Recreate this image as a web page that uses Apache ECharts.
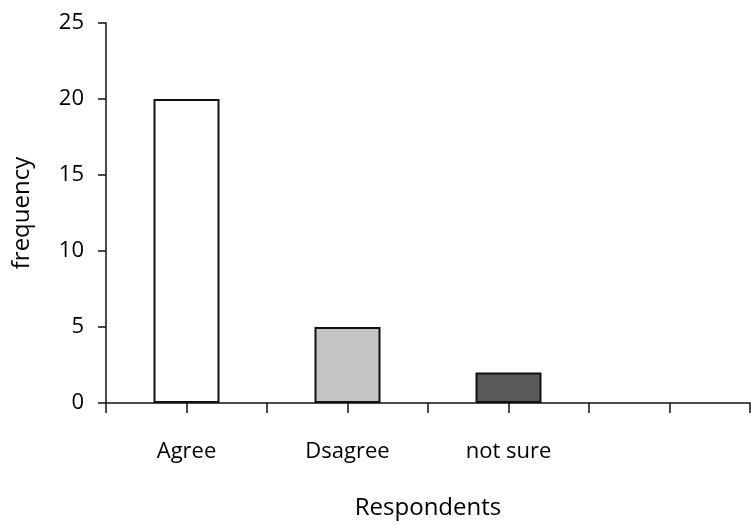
<!DOCTYPE html>
<html>
<head>
<meta charset="utf-8">
<script src="https://cdn.jsdelivr.net/npm/echarts@6/dist/echarts.min.js"></script>
<style>
html,body{margin:0;padding:0;background:#fff;}
#chart{width:751px;height:525px;}
</style>
</head>
<body>
<div id="chart"></div>
<script>
const categories = ['Agree', 'Dsagree', 'not sure', ''];
const frequency = [20, 5, 2, null];
const barColors = ['#ffffff', '#c4c4c4', '#595959', '#ffffff'];
const yTicks = [0, 5, 10, 15, 20, 25];

const FONT = '"Open Sans", Lato, sans-serif';
const chart = echarts.init(document.getElementById('chart'));
chart.setOption({
  animation: false,
  backgroundColor: '#fff',
  grid: { left: 106, top: 23, width: 644, height: 380, containLabel: false },
  xAxis: [{
    type: 'category',
    data: categories,
    boundaryGap: true,
    name: 'Respondents',
    nameLocation: 'middle',
    nameGap: 93,
    nameTextStyle: { fontFamily: FONT, fontSize: 24, color: '#000' },
    axisLine: { lineStyle: { color: '#111', width: 1.5 } },
    axisTick: { show: true, alignWithLabel: true, length: 10, lineStyle: { color: '#111', width: 1.5 } },
    axisLabel: { fontFamily: FONT, fontSize: 22, color: '#000', margin: 38 }
  }, {
    type: 'category',
    data: categories,
    boundaryGap: true,
    position: 'bottom',
    axisLine: { show: false },
    axisTick: { show: true, alignWithLabel: false, length: 10, lineStyle: { color: '#111', width: 1.5 } },
    axisLabel: { show: false }
  }],
  yAxis: {
    type: 'value',
    min: 0, max: 25, interval: 5,
    name: 'frequency',
    nameLocation: 'middle',
    nameGap: 72,
    nameTextStyle: { fontFamily: FONT, fontSize: 24, color: '#000' },
    axisLine: { show: true, lineStyle: { color: '#111', width: 1.5 } },
    axisTick: { show: true, length: 8, lineStyle: { color: '#111', width: 1.5 } },
    axisLabel: { fontFamily: FONT, fontSize: 22, color: '#000', margin: 22,
      formatter: v => yTicks.includes(v) ? String(v) : '' },
    splitLine: { show: false }
  },
  series: [{
    type: 'bar',
    xAxisIndex: 0,
    data: frequency.map((v, i) => ({ value: v, itemStyle: { color: barColors[i] } })),
    barWidth: 66,
    itemStyle: { borderColor: '#111', borderWidth: 2 }
  }]
});
</script>
</body>
</html>
